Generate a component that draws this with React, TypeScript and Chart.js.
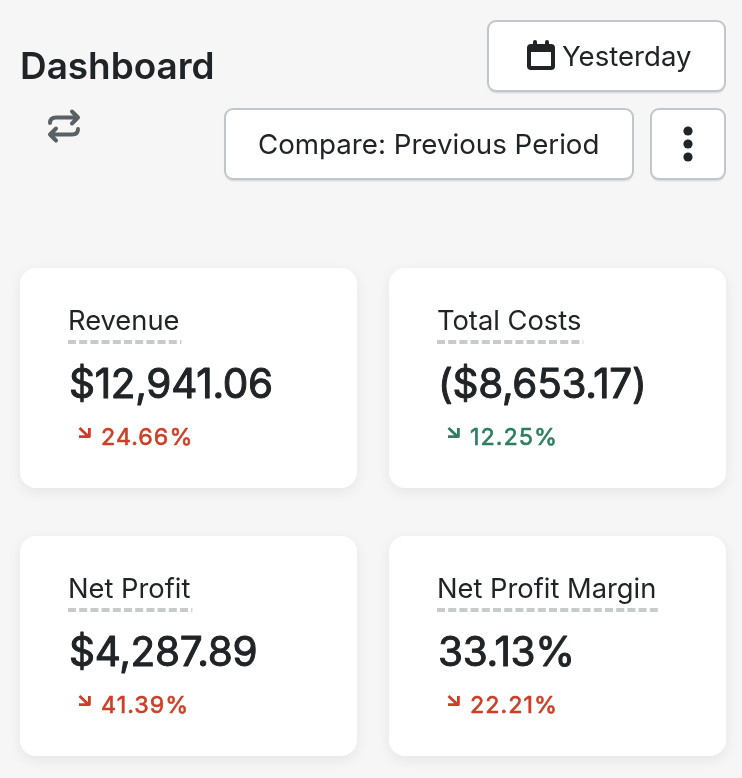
import { useEffect, useRef } from "react";
import { Chart, registerables, type Plugin } from "chart.js";

Chart.register(...registerables);

const pageTitle = "Dashboard";
const dateButton = "Yesterday";
const compareButton = "Compare: Previous Period";

const kpiNames = ["Revenue", "Total Costs", "Net Profit", "Net Profit Margin"];
const kpiValues = ["$12,941.06", "($8,653.17)", "$4,287.89", "33.13%"];
const kpiChanges = [24.66, 12.25, 41.39, 22.21];
const kpiFavourable = [false, true, false, false];

const FONT = "Inter, 'Noto Sans', sans-serif";
const INK = "#212427";
const RED = "#cc3f26";
const GREEN = "#2f7d63";
const BORDER = "#c3c6c8";

function rounded(ctx: CanvasRenderingContext2D, x: number, y: number, w: number, h: number, r: number) {
  ctx.beginPath();
  ctx.roundRect(x, y, w, h, r);
}

// the canvas has no medium Inter, so a thin outline thickens the regular weight
function text(
  ctx: CanvasRenderingContext2D,
  str: string,
  x: number,
  y: number,
  font: string,
  color: string,
  spacing = 0,
  outline = 0,
) {
  ctx.font = font;
  ctx.fillStyle = color;
  (ctx as any).letterSpacing = `${spacing}px`;
  ctx.fillText(str, x, y);
  if (outline > 0) {
    ctx.strokeStyle = color;
    ctx.lineWidth = outline;
    ctx.lineJoin = "round";
    ctx.strokeText(str, x, y);
  }
  const w = ctx.measureText(str).width;
  (ctx as any).letterSpacing = "0px";
  return w;
}

function button(ctx: CanvasRenderingContext2D, x: number, y: number, w: number, h: number) {
  ctx.save();
  ctx.shadowColor = "rgba(0,0,0,0.14)";
  ctx.shadowBlur = 2;
  ctx.shadowOffsetY = 2;
  rounded(ctx, x, y, w, h, 8);
  ctx.fillStyle = "#ffffff";
  ctx.fill();
  ctx.restore();
  rounded(ctx, x, y, w, h, 8);
  ctx.strokeStyle = BORDER;
  ctx.lineWidth = 2;
  ctx.stroke();
}

function calendarIcon(ctx: CanvasRenderingContext2D, x: number, y: number) {
  ctx.fillStyle = INK;
  rounded(ctx, x, y + 4, 28, 26, 4);
  ctx.fill();
  rounded(ctx, x + 6, y, 4, 8, 2);
  ctx.fill();
  rounded(ctx, x + 18, y, 4, 8, 2);
  ctx.fill();
  ctx.fillStyle = "#ffffff";
  ctx.fillRect(x + 4, y + 12, 20, 14);
}

function swapIcon(ctx: CanvasRenderingContext2D) {
  ctx.save();
  ctx.strokeStyle = "#5a6164";
  ctx.lineWidth = 4;
  ctx.lineCap = "round";
  ctx.lineJoin = "round";
  ctx.beginPath();
  ctx.moveTo(50, 123);
  ctx.quadraticCurveTo(50, 117.5, 56, 117.5);
  ctx.lineTo(78, 117.5);
  ctx.moveTo(72, 111.5);
  ctx.lineTo(78, 117.5);
  ctx.lineTo(72, 123.5);
  ctx.moveTo(78, 129);
  ctx.quadraticCurveTo(78, 134.5, 72, 134.5);
  ctx.lineTo(50, 134.5);
  ctx.moveTo(56, 128.5);
  ctx.lineTo(50, 134.5);
  ctx.lineTo(56, 140.5);
  ctx.stroke();
  ctx.restore();
}

function downArrow(ctx: CanvasRenderingContext2D, x: number, y: number, color: string) {
  ctx.save();
  ctx.strokeStyle = color;
  ctx.lineWidth = 2.8;
  ctx.beginPath();
  ctx.moveTo(x + 0.5, y);
  ctx.lineTo(x + 9.5, y + 8.5);
  ctx.moveTo(x, y + 8.6);
  ctx.lineTo(x + 10.4, y + 8.6);
  ctx.lineTo(x + 10.4, y);
  ctx.stroke();
  ctx.restore();
}

const dashboardPlugin: Plugin = {
  id: "dashboard",
  afterDraw(chart) {
    const { ctx } = chart;
    ctx.save();
    ctx.textBaseline = "alphabetic";
    ctx.textAlign = "left";

    text(ctx, pageTitle, 20, 79, `600 36.9px ${FONT}`, INK);
    swapIcon(ctx);

    button(ctx, 488, 21, 237, 70);
    calendarIcon(ctx, 527, 40);
    text(ctx, dateButton, 562, 66, `400 27.6px ${FONT}`, INK);

    button(ctx, 225, 109, 408, 70);
    text(ctx, compareButton, 258, 154, `400 27.7px ${FONT}`, INK);

    button(ctx, 651, 109, 74, 70);
    ctx.fillStyle = INK;
    [131, 144, 157].forEach((cy) => {
      ctx.beginPath();
      ctx.arc(688, cy, 4.6, 0, Math.PI * 2);
      ctx.fill();
    });

    const changes = chart.data.datasets[0].data as number[];
    (chart.data.labels as string[]).forEach((name, i) => {
      const x = i % 2 === 0 ? 20 : 389;
      const y = i < 2 ? 268 : 536;

      ctx.save();
      ctx.shadowColor = "rgba(0,0,0,0.07)";
      ctx.shadowBlur = 14;
      ctx.shadowOffsetY = 4;
      rounded(ctx, x, y, 337, 220, 16);
      ctx.fillStyle = "#ffffff";
      ctx.fill();
      ctx.restore();

      const w = text(ctx, name, x + 48, y + 62, `400 27.3px ${FONT}`, INK);
      ctx.save();
      ctx.strokeStyle = "#c8cbcb";
      ctx.lineWidth = 4;
      ctx.setLineDash([8, 3.2]);
      ctx.beginPath();
      ctx.moveTo(x + 48, y + 74);
      ctx.lineTo(x + 50 + w, y + 74);
      ctx.stroke();
      ctx.restore();

      text(ctx, kpiValues[i], x + 49, y + 130, `400 40.5px ${FONT}`, INK, -0.3, 1);

      const color = kpiFavourable[i] ? GREEN : RED;
      downArrow(ctx, x + 59, y + 160, color);
      text(ctx, `${changes[i].toFixed(2)}%`, x + 81, y + 177, `400 23.4px ${FONT}`, color, 1, 0.6);
    });
    ctx.restore();
  },
};

export default function App() {
  const canvasRef = useRef<HTMLCanvasElement>(null);

  useEffect(() => {
    const canvas = canvasRef.current;
    if (!canvas) return;
    const chart = new Chart(canvas, {
      type: "bar",
      data: {
        labels: kpiNames,
        datasets: [{ label: "Change %", data: kpiChanges, hidden: true }],
      },
      options: {
        animation: false,
        responsive: false,
        events: [],
        layout: { padding: 0 },
        scales: { x: { display: false }, y: { display: false } },
        plugins: { legend: { display: false }, tooltip: { enabled: false } },
      },
      plugins: [dashboardPlugin],
    });
    return () => chart.destroy();
  }, []);

  return (
    <div style={{ position: "fixed", inset: 0, background: "#f6f6f6" }}>
      <canvas ref={canvasRef} width={742} height={778} style={{ display: "block" }} />
    </div>
  );
}
